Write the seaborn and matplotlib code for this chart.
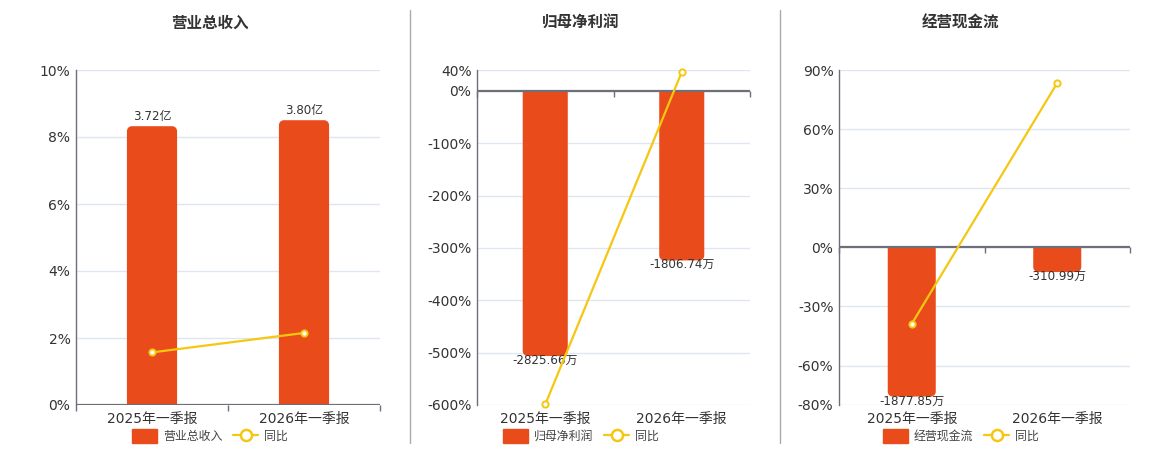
import matplotlib
matplotlib.use('Agg')
import matplotlib.pyplot as plt
import matplotlib.patches as mpatches
from matplotlib.lines import Line2D
import seaborn as sns
import numpy as np

sns.set_theme(style='white')
plt.rcParams['font.family'] = ['DejaVu Sans', 'Noto Sans CJK SC']
plt.rcParams['axes.unicode_minus'] = False

# data
periods = ['2025年一季报', '2026年一季报']
titles = ['营业总收入', '归母净利润', '经营现金流']
units = ['亿', '万', '万']

revenue = [3.72, 3.80]
revenue_yoy = [1.57, 2.15]
net_profit = [-2825.66, -1806.74]
net_profit_yoy = [-599.0, 36.06]
cash_flow = [-1877.85, -310.99]
cash_flow_yoy = [-38.8, 83.44]

pct_ticks = [[0, 2, 4, 6, 8, 10],
             [40, 0, -100, -200, -300, -400, -500, -600],
             [90, 60, 30, 0, -30, -60, -80]]
pct_limits = [(0, 10), (-600, 40), (-80, 90)]
# hidden bar axis: value units per percent point
bar_scale = [0.447, 5.58, 24.8]

BAR = '#E94B1B'
LINE = '#F5C710'
AXIS = '#6E7079'
GRID = '#E0E6F1'
TEXT = '#333333'

W, H = 1160, 450
fig = plt.figure(figsize=(W / 100, H / 100), dpi=100)

# pixel boxes: left, right, top, bottom of each plot area
boxes = [(76, 380, 70, 405), (477, 750, 70, 405), (839, 1130, 70, 405)]
title_x = [210, 581, 961]

series = [(revenue, revenue_yoy), (net_profit, net_profit_yoy), (cash_flow, cash_flow_yoy)]


def rounded_bar(x0, w, h, rx, ry):
    """polygon for a bar with the far end rounded"""
    s = 1 if h >= 0 else -1
    cy = h - s * ry
    th_l = np.linspace(np.pi, np.pi / 2, 12)
    th_r = np.linspace(np.pi / 2, 0, 12)
    left = np.c_[x0 + rx + rx * np.cos(th_l), cy + s * ry * np.sin(th_l)]
    right = np.c_[x0 + w - rx + rx * np.cos(th_r), cy + s * ry * np.sin(th_r)]
    pts = np.vstack([[x0, 0], left, right, [x0 + w, 0]])
    return mpatches.Polygon(pts, closed=True, facecolor=BAR, edgecolor='none')


for i, (bars, yoy) in enumerate(series):
    l, r, t, b = boxes[i]
    rect = [l / W, 1 - b / H, (r - l) / W, (b - t) / H]
    ax = fig.add_axes(rect)
    lo, hi = pct_limits[i]
    k = bar_scale[i]

    # percent axis (grid, spines, labels)
    ax.set_xlim(-0.5, len(periods) - 0.5)
    ax.set_ylim(lo, hi)
    ax.set_yticks(pct_ticks[i])
    ax.set_yticklabels([f'{v:g}%' for v in pct_ticks[i]], fontsize=10, color=TEXT)
    ax.set_xticks(range(len(periods)))
    ax.set_xticklabels(periods, fontsize=10, color=TEXT)
    ax.tick_params(axis='both', length=0)
    ax.tick_params(axis='y', pad=4)
    ax.tick_params(axis='x', pad=5)
    ax.grid(axis='y', color=GRID, lw=1)
    ax.grid(axis='x', visible=False)
    for s in ['top', 'right', 'bottom']:
        ax.spines[s].set_visible(False)
    ax.spines['left'].set_color(AXIS)
    ax.spines['left'].set_linewidth(1)

    # bars on a hidden twin axis
    ax2 = ax.twinx()
    sns.barplot(x=periods, y=bars, ax=ax2, color=BAR, width=0.33,
                linewidth=0, saturation=1)
    ax2.set_ylim(lo * k, hi * k)
    ax2.set_xlim(-0.5, len(periods) - 0.5)
    ax2.set_yticks([])
    ax2.set_xlabel('')
    ax2.set_ylabel('')
    for s in ax2.spines.values():
        s.set_visible(False)
    pad = 2 if min(bars) >= 0 else -1.5
    ax2.bar_label(ax2.containers[0], labels=[f'{v:.2f}{units[i]}' for v in bars],
                  fontsize=8.6, color=TEXT, padding=pad)

    # swap seaborn rectangles for ones with a rounded far end
    px_x = (r - l) / (len(periods))
    px_y = (b - t) / ((hi - lo) * k)
    for p in list(ax2.patches):
        ax2.add_patch(rounded_bar(p.get_x(), p.get_width(), p.get_y() + p.get_height(),
                                  5 / px_x, 5 / px_y))
        p.set_visible(False)

    # zero / category axis line with boundary ticks
    ax3 = ax.twinx()
    ax3.set_ylim(lo, hi)
    ax3.set_xlim(-0.5, len(periods) - 0.5)
    ax3.set_yticks([])
    for s in ax3.spines.values():
        s.set_visible(False)
    ax3.axhline(0, color=AXIS, lw=1.6, zorder=1)
    bounds = np.arange(len(periods) + 1) - 0.5
    ax3.plot(bounds, np.zeros_like(bounds), linestyle='none', marker=3,
             markersize=4, markeredgewidth=1, color=AXIS, clip_on=False)

    # yoy line
    sns.lineplot(x=np.arange(len(periods)), y=yoy, ax=ax3, color=LINE, lw=1.6,
                 marker='o', markersize=4.5, markerfacecolor='white',
                 markeredgecolor=LINE, markeredgewidth=1.4, clip_on=False, zorder=3)
    ax3.set_xlabel('')

    fig.text(title_x[i] / W, 1 - 23 / H, titles[i], ha='center', va='center',
             fontsize=11.2, fontweight='bold', color=TEXT,
             family=['Noto Sans CJK SC', 'DejaVu Sans'])

    handles = [mpatches.Patch(color=BAR, label=titles[i]),
               Line2D([0], [0], color=LINE, lw=1.6, marker='o', markersize=8,
                      markerfacecolor='white', markeredgecolor=LINE,
                      markeredgewidth=1.8, label='同比')]
    fig.legend(handles=handles, loc='center', bbox_to_anchor=(title_x[i] / W, 1 - 436 / H),
               ncol=2, frameon=False, fontsize=8.6, handlelength=2.1, handleheight=1.4,
               handletextpad=0.5, columnspacing=0.9, labelcolor='#444444',
               prop={'family': ['Noto Sans CJK SC', 'DejaVu Sans'], 'size': 8.6})

# separators between panels
for xs in [410, 780]:
    fig.add_artist(Line2D([xs / W, xs / W], [1 - 443 / H, 1 - 10 / H],
                          color='#AAAAAA', lw=1))

fig.savefig('out.png', dpi=100)
